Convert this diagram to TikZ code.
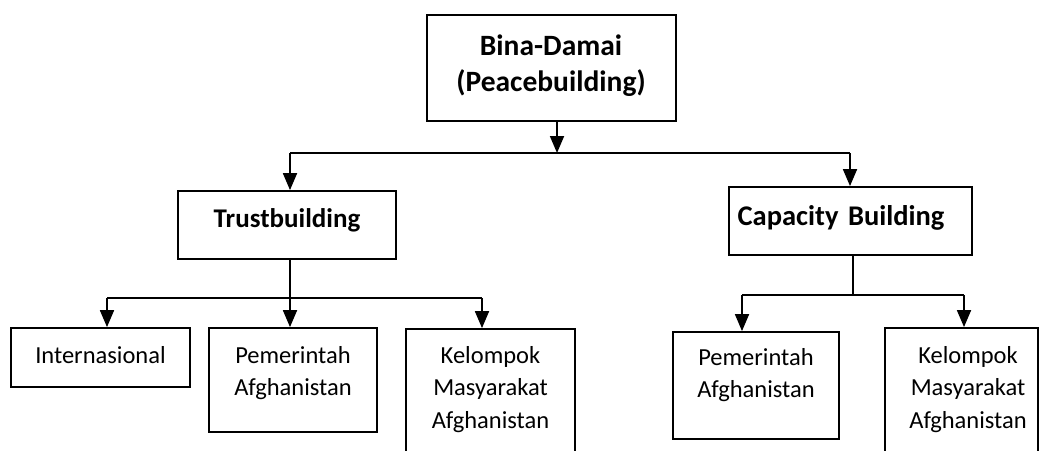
\documentclass[tikz,border=0pt]{standalone}
\usepackage{fontspec}
\setmainfont{Carlito}
\usetikzlibrary{arrows.meta}
\begin{document}
\begin{tikzpicture}[x=1pt,y=-1pt,
  box/.style={draw, line width=1.8pt, rectangle, inner sep=0pt},
  conn/.style={line width=1.8pt},
  arr/.style={conn, -{Triangle[width=14pt,length=17pt]}},
  bt/.style={font=\fontsize{27}{35.7}\selectfont\bfseries, inner sep=0pt, anchor=base, align=center, text width=245pt},
  rt/.style={font=\fontsize{24.5}{32.5}\selectfont, inner sep=0pt, anchor=base, align=center, text width=170pt}]
\useasboundingbox (0,0) rectangle (1041,450);
\clip (0,0) rectangle (1041,450);
% boxes
\node[box, minimum width=249pt, minimum height=106pt] (top) at (551.5,68) {};
\node[box, minimum width=218pt, minimum height=68pt] (tb) at (287,225) {};
\node[box, minimum width=243pt, minimum height=68pt] (cb) at (850.5,221) {};
\node[box, minimum width=179pt, minimum height=59pt] (int) at (100.5,357.5) {};
\node[box, minimum width=168pt, minimum height=104pt] (pa1) at (293,380) {};
\node[box, minimum width=169pt, minimum height=141pt] (ka1) at (490.5,399.5) {};
\node[box, minimum width=166pt, minimum height=107pt] (pa2) at (756,385.5) {};
\node[box, minimum width=153pt, minimum height=142pt] (ka2) at (961.5,399) {};
% texts
\node[bt, font=\fontsize{29.5}{35.7}\selectfont\bfseries] (topt) at (551,55.5) {Bina-Damai\\(Peacebuilding)};
\node[bt] (tbt) at (287,227) {Trustbuilding};
\node[bt, font=\fontsize{28.5}{35.7}\selectfont\bfseries] (cbt) at (841,225) {Capacity Building};
\node[rt] (intt) at (100.5,363) {Internasional};
\node[rt] (pa1t) at (293,363) {Pemerintah\\Afghanistan};
\node[rt] (ka1t) at (490.5,363) {Kelompok\\Masyarakat\\Afghanistan};
\node[rt] (pa2t) at (756,365) {Pemerintah\\Afghanistan};
\node[rt] (ka2t) at (968,363) {Kelompok\\Masyarakat\\Afghanistan};
% junction coordinates
\coordinate (j0) at (557,153);
\coordinate (jl) at (290,153);
\coordinate (jr) at (850,153);
\coordinate (t0) at (290,298);
\coordinate (tl) at (107,298);
\coordinate (tr) at (482,298);
\coordinate (c0) at (853,295);
\coordinate (cl) at (742,295);
\coordinate (cr) at (964,295);
% connectors
\draw[arr] (top.south -| j0) -- (j0);
\draw[conn] (jl) -- (jr);
\draw[arr] (jl) -- (jl |- tb.north);
\draw[arr] (jr) -- (jr |- cb.north);
\draw[conn] (tb.south -| t0) -- (t0);
\draw[conn] (tl) -- (tr);
\draw[arr] (tl) -- (tl |- int.north);
\draw[arr] (t0) -- (t0 |- pa1.north);
\draw[arr] (tr) -- (tr |- ka1.north);
\draw[conn] (cb.south -| c0) -- (c0);
\draw[conn] (cl) -- (cr);
\draw[arr] (cl) -- (cl |- pa2.north);
\draw[arr] (cr) -- (cr |- ka2.north);
\end{tikzpicture}
\end{document}
